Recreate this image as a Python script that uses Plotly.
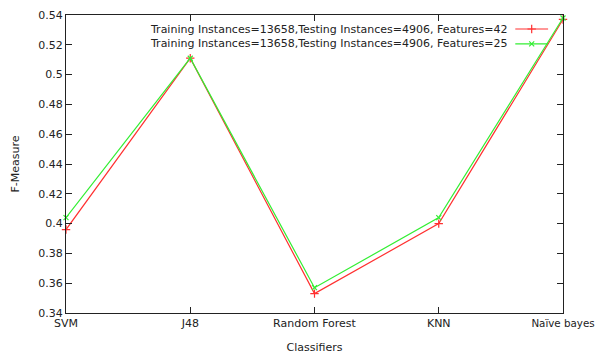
import plotly.graph_objects as go

classifiers = ["SVM", "J48", "Random Forest", "KNN", "Naïve bayes"]
f42 = [0.396, 0.511, 0.353, 0.400, 0.537]
f25 = [0.404, 0.511, 0.357, 0.404, 0.538]
y_ticks = [0.34, 0.36, 0.38, 0.40, 0.42, 0.44, 0.46, 0.48, 0.50, 0.52, 0.54]
y_tick_text = ["0.34", "0.36", "0.38", "0.4", "0.42", "0.44", "0.46", "0.48", "0.5", "0.52", "0.54"]
label42 = "Training Instances=13658,Testing Instances=4906, Features=42"
label25 = "Training Instances=13658,Testing Instances=4906, Features=25"

RED = "#ff3030"
GREEN = "#33ee33"
FONT = "DejaVu Sans"

x = list(range(len(classifiers)))
# the last category label sits on the right edge; set it slightly smaller so it fits
x_tick_text = classifiers[:-1] + ["<span style='font-size:10.3px'>" + classifiers[-1] + "</span>"]

fig = go.Figure()
fig.add_trace(go.Scatter(
    x=x, y=f42, mode="lines+markers", name=label42,
    line=dict(color=RED, width=1.2),
    marker=dict(symbol="cross-thin", size=6, line=dict(color=RED, width=1.2)),
    showlegend=False, cliponaxis=False,
))
fig.add_trace(go.Scatter(
    x=x, y=f25, mode="lines+markers", name=label25,
    line=dict(color=GREEN, width=1.2),
    marker=dict(symbol="x-thin", size=5, line=dict(color=GREEN, width=1.2)),
    showlegend=False, cliponaxis=False,
))

# key samples on an overlay axis in unit coordinates (text left of sample)
key_rows = [(label42, RED, "cross-thin", 6, 0.953), (label25, GREEN, "x-thin", 5, 0.903)]
for text, color, sym, size, ky in key_rows:
    fig.add_trace(go.Scatter(
        x=[0.904, 0.970], y=[ky, ky], xaxis="x2", yaxis="y2",
        mode="lines", line=dict(color=color, width=1.2),
        showlegend=False, hoverinfo="skip",
    ))
    fig.add_trace(go.Scatter(
        x=[0.937], y=[ky], xaxis="x2", yaxis="y2",
        mode="markers", marker=dict(symbol=sym, size=size, line=dict(color=color, width=1.2)),
        showlegend=False, hoverinfo="skip",
    ))
    fig.add_annotation(
        x=0.893, y=ky, xref="x2", yref="y2", text=text, showarrow=False,
        xanchor="right", yanchor="middle",
        font=dict(family=FONT, size=11, color="#222"),
    )

axis_common = dict(
    showline=True, linecolor="#222", linewidth=1, mirror="ticks",
    ticks="inside", ticklen=6, tickcolor="#222", tickwidth=1,
    showgrid=False, zeroline=False,
    tickfont=dict(family=FONT, size=11, color="#222"),
    ticklabeloverflow="allow",
)

fig.update_layout(
    width=595, height=360,
    margin=dict(l=66, r=32, t=15, b=47),
    paper_bgcolor="white", plot_bgcolor="white",
    xaxis=dict(
        range=[-0.0001, 4.0001], tickvals=x, ticktext=x_tick_text,
        title=dict(text="Classifiers", font=dict(family=FONT, size=11, color="#222"), standoff=14),
        automargin=False,
        **axis_common,
    ),
    yaxis=dict(
        range=[0.34, 0.54], tickvals=y_ticks, ticktext=y_tick_text,
        title=dict(text="F-Measure", font=dict(family=FONT, size=11, color="#222"), standoff=16),
        automargin=False,
        **axis_common,
    ),
    xaxis2=dict(overlaying="x", range=[0, 1], visible=False, fixedrange=True),
    yaxis2=dict(overlaying="y", range=[0, 1], visible=False, fixedrange=True),
)

fig.write_html("out.html")
